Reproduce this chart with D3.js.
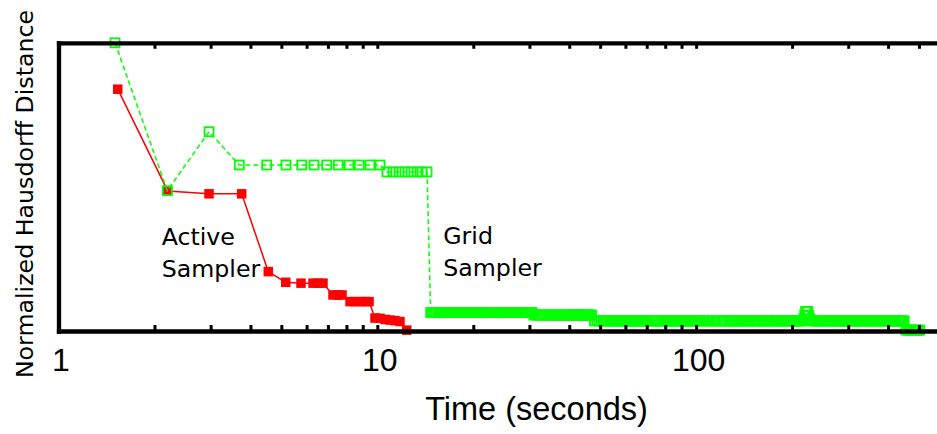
<!DOCTYPE html>
<html><head><meta charset="utf-8">
<script src="https://cdn.jsdelivr.net/npm/d3@7"></script>
<style>body{margin:0;background:#fff} svg{display:block}</style>
</head><body>
<svg id="c" width="937" height="434"></svg>
<script>
// ---- data (time in seconds, normalized Hausdorff distance) ----
const activeTime = [1.534, 2.20, 2.966, 3.755, 4.551, 5.161, 5.763, 6.286, 6.516, 6.755,
  7.262, 7.530, 7.75, 8.21, 8.51, 8.83, 9.15, 9.42, 9.835, 10.20, 10.57, 10.96, 11.36, 11.78, 12.37];
const activeDist = [0.839, 0.486, 0.476, 0.476, 0.206, 0.169, 0.166, 0.166, 0.166, 0.166,
  0.125, 0.125, 0.125, 0.102, 0.102, 0.102, 0.102, 0.102, 0.045, 0.044, 0.040, 0.038, 0.036, 0.033, 0.003];

// grid sampler, sparse early part
const gridTime = [1.504, 2.194, 2.966,
  3.690, 4.499, 5.172, 5.793, 6.330, 6.938, 7.545, 8.152, 8.779, 9.487, 10.20,
  10.72, 11.20, 11.70, 12.21, 12.76, 13.32, 13.81, 14.32];
const gridDist = [1.0, 0.487, 0.6915,
  0.576, 0.576, 0.576, 0.576, 0.576, 0.576, 0.576, 0.576, 0.576, 0.576, 0.576,
  0.552, 0.552, 0.552, 0.552, 0.552, 0.552, 0.552, 0.552];

// grid sampler, dense tail: sample times on each plateau, and the plateau distances
const gridPlateauTimeA = [14.7, 14.9, 15.1, 15.3, 15.5, 15.7, 15.9, 16.1, 16.3, 16.5, 16.7, 16.9,
  17.1, 17.3, 17.5, 17.7, 17.9, 18.1, 18.3, 18.5, 18.7, 18.9, 19.1, 19.3, 19.5, 19.7, 19.9, 20.1,
  20.4, 20.7, 21.0, 21.3, 21.6, 21.9, 22.2, 22.5, 22.8, 23.1, 23.4, 23.7, 24.0, 24.3, 24.6, 24.9,
  25.2, 25.5, 25.8, 26.1, 26.4, 26.7, 27.0, 27.3, 27.6, 27.9, 28.2, 28.5, 28.8, 29.1, 29.4, 29.7,
  30.0, 30.3, 30.6];
const gridPlateauTimeB = [31.0, 31.5, 32.0, 32.5, 33.0, 33.5, 34.0, 34.5, 35.0, 35.5, 36.0, 36.5,
  37.0, 37.5, 38.0, 38.5, 39.0, 39.5, 40.0, 40.5, 41.0, 41.5, 42.0, 42.5, 43.0, 43.5, 44.0, 44.5,
  45.0, 45.5, 46.0, 46.5, 47.0];
const gridPlateauTimeC = [48.0, 48.8, 49.6, 50.4, 51.2, 52.0, 52.8, 53.6, 54.4, 55.2, 56.0, 56.8,
  57.6, 58.4, 59.2, 60.0, 60.8, 61.6, 62.4, 63.2, 64.0, 64.8, 65.6, 66.4, 67.2, 68.0, 68.8, 69.6, 70.4,
  71.6, 72.8, 74.0, 75.2, 76.4, 77.6, 78.8, 80.0, 81.2, 82.4, 83.6, 84.8, 86.0, 87.2, 88.4, 89.6,
  90.8, 92.0, 93.2, 94.4, 95.6, 96.8, 98.0, 99.2, 100.4,
  102, 104, 106, 108, 110, 112, 114, 116, 118, 120, 122, 124, 126, 128, 130, 132, 134, 136, 138,
  140, 142, 144, 146, 148, 150,
  152.5, 155, 157.5, 160, 162.5, 165, 167.5, 170, 172.5, 175, 177.5, 180, 182.5, 185, 187.5, 190,
  192.5, 195, 197.5, 200, 202.5, 205, 207.5, 210, 212.5, 215,
  229, 232, 235.5, 239, 242.5, 246, 249.5, 253, 256.5, 260, 263.5, 267, 270.5, 274, 277.5, 281,
  284.5, 288, 291.5, 295, 298.5, 302, 305.5, 309, 312.5, 316, 319.5,
  324.5, 329.5, 334.5, 339.5, 344.5, 349.5, 354.5, 359.5, 364.5, 369.5, 374.5, 379.5, 384.5,
  389.5, 394.5, 399.5, 404.5, 409.5, 414.5, 419.5, 424.5, 429.5, 434.5, 439.5, 444.5, 449.5];
const gridPlateauTimeD = [455, 461, 467, 473, 479, 485, 491, 497, 503];
const gridPlateauDist = [0.064, 0.0555, 0.035, 0.003];
// small bump near 220 s
const gridBumpTime = [217.5, 219.0, 220.4, 222.1, 223.9, 225.5, 227.2];
const gridBumpDist = [0.042, 0.055, 0.068, 0.068, 0.068, 0.055, 0.042];

const tickValues = [1,2,3,4,5,6,7,8,9,10,20,30,40,50,60,70,80,90,100,200,300,400,500];
const tickLabels = {1: "1", 10: "10", 100: "100"};
const xTitle = "Time (seconds)";
const yTitle = "Normalized Hausdorff Distance";
const annotations = [
  {lines: ["Active", "Sampler"], t: 2.107, v: 0.298},
  {lines: ["Grid", "Sampler"], t: 16.1, v: 0.302}
];

// ---- chart ----
const svg = d3.select("#c");
const x = d3.scaleLog().domain([1, 600]).range([58.5, 944.2]);
const y = d3.scaleLinear().domain([0, 1]).range([331, 42.8]);

const active = activeTime.map((t, i) => ({t, v: activeDist[i]}));
const plateaus = [gridPlateauTimeA, gridPlateauTimeB, gridPlateauTimeC, gridPlateauTimeD];
const grid = gridTime.map((t, i) => ({t, v: gridDist[i]}))
  .concat(...plateaus.map((ts, k) => ts.map(t => ({t, v: gridPlateauDist[k]}))))
  .concat(gridBumpTime.map((t, i) => ({t, v: gridBumpDist[i]})))
  .sort((a, b) => a.t - b.t);

const line = d3.line().x(d => x(d.t)).y(d => y(d.v));

// Active sampler (red, solid, filled squares)
svg.append("path").datum(active).attr("d", line)
  .attr("fill", "none").attr("stroke", "#ff0000").attr("stroke-width", 1.5);
svg.append("g").selectAll("rect").data(active).join("rect")
  .attr("x", d => x(d.t) - 4.75).attr("y", d => y(d.v) - 4.75)
  .attr("width", 9.5).attr("height", 9.5).attr("fill", "#ff0000");

// Grid sampler (green, dashed, open squares)
svg.append("path").datum(grid).attr("d", line)
  .attr("fill", "none").attr("stroke", "#00ff00").attr("stroke-width", 1.5)
  .attr("stroke-dasharray", "5,3");
svg.append("g").selectAll("rect").data(grid).join("rect")
  .attr("x", d => x(d.t) - 4.5).attr("y", d => y(d.v) - 4.5)
  .attr("width", 9).attr("height", 9).attr("fill", "none")
  .attr("stroke", "#00ff00").attr("stroke-width", 1.8);

// axes
const fmt = d => tickLabels[d] || "";
const gB = svg.append("g").attr("transform", `translate(0,${y(0)})`)
  .call(d3.axisBottom(x).tickValues(tickValues).tickFormat(fmt)
    .tickSizeInner(-6).tickSizeOuter(0).tickPadding(0));
const gT = svg.append("g").attr("transform", `translate(0,${y(1)})`)
  .call(d3.axisTop(x).tickValues(tickValues).tickFormat("")
    .tickSizeInner(-6).tickSizeOuter(0));
const gL = svg.append("g").attr("transform", `translate(${x(1)},0)`)
  .call(d3.axisLeft(y).tickValues([]).tickSizeOuter(0));

[gB, gT, gL].forEach(g => {
  g.select(".domain").attr("stroke", "#000").attr("stroke-width", 4.3)
    .attr("stroke-linecap", "square");
  g.selectAll(".tick line").attr("stroke", "#000").attr("stroke-width", 3);
});
gB.selectAll(".tick text")
  .attr("y", 40).attr("dy", 0).attr("dx", 2)
  .attr("font-family", "'Liberation Sans', Arial, sans-serif")
  .attr("font-size", 32).attr("fill", "#000");

svg.append("text")
  .attr("x", 536.5).attr("y", 420).attr("text-anchor", "middle")
  .attr("font-family", "'Liberation Sans', Arial, sans-serif").attr("font-size", 32.5)
  .text(xTitle);

svg.append("text")
  .attr("transform", "translate(33,194) rotate(-90)").attr("text-anchor", "middle")
  .attr("font-family", "'DejaVu Sans', sans-serif").attr("font-size", 23.7)
  .text(yTitle);

annotations.forEach(a => {
  const tx = svg.append("text")
    .attr("font-family", "'DejaVu Sans', sans-serif").attr("font-size", 23.7);
  a.lines.forEach((s, i) => {
    tx.append("tspan").attr("x", x(a.t)).attr("y", y(a.v) + i * 32).text(s);
  });
});
</script>
</body></html>
